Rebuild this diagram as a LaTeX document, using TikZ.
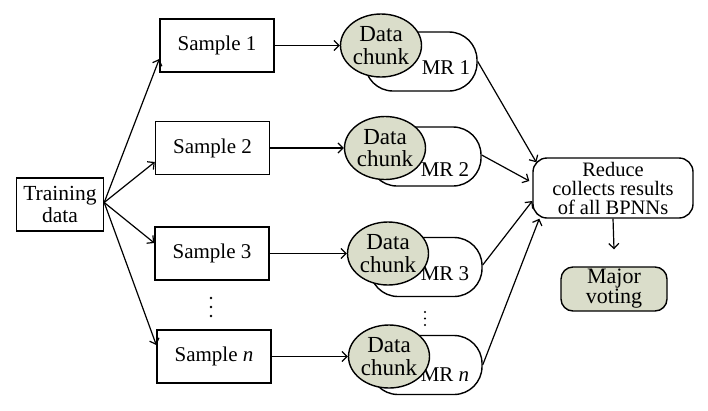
\documentclass[tikz,border=0pt]{standalone}
\usepackage{fontspec}
\setmainfont{Liberation Serif}
\usetikzlibrary{arrows.meta,shapes.geometric}
\definecolor{chunkfill}{RGB}{218,221,202}
\tikzset{
    arr/.style = {-{Straight Barb[length=5pt,width=10pt]}, line width=1.2pt},
    smplbox/.style = {draw, rectangle, line width=1.4pt, minimum width=114pt, minimum height=53pt, inner sep=0pt},
    mrbox/.style = {draw, rectangle, line width=1.4pt, minimum width=112pt, minimum height=59pt, rounded corners=28pt},
    chunk/.style = {draw, ellipse, fill=chunkfill, line width=1.4pt, minimum width=81pt, minimum height=63pt, inner sep=0pt, align=center, font=\fontsize{23}{22.5}\selectfont},
    dot/.style = {circle, fill, inner sep=0pt, minimum size=2.6pt},
}
\begin{document}
\begin{tikzpicture}[x=1pt, y=-1pt, font=\fontsize{21}{22}\selectfont]
    \useasboundingbox (0,0) rectangle (708,410);
    
    % training data and samples
    \node[draw, line width=1.4pt, minimum width=87pt, minimum height=53pt, inner sep=0pt, align=center, font=\fontsize{21.5}{22}\selectfont] (train) at (60,204.5) {Training\\data};
    \node[smplbox] (s1) at (217,45.5) {Sample 1};
    \node[smplbox] (s2) at (212.5,148) {Sample 2};
    \node[smplbox] (s3) at (212,253.5) {Sample 3};
    \node[smplbox] (sn) at (214,356.5) {Sample \textit{n}};
    \foreach \ydot in {298,307,316} {
        \node[dot] at (211,\ydot) {};
    } %end foreach
    
    \draw[arr] ([yshift=2pt]train.east) -- ([yshift=-13.5pt]s1.west);
    \draw[arr] ([yshift=2pt]train.east) -- ([yshift=-14pt]s2.west);
    \draw[arr] ([yshift=2pt]train.east) -- ([yshift=10.5pt]s3.west);
    \draw[arr] ([yshift=2pt]train.east) -- ([yshift=11.5pt]sn.west);
    
    % map-reduce jobs
    \node[mrbox] (mr1) at (421,61.5) {};
    \node[mrbox] (mr2) at (425,156.5) {};
    \node[mrbox] (mr3) at (426,267) {};
    \node[mrbox] (mrn) at (426,365) {};
    \node at ([xshift=25pt,yshift=-6pt]mr1.center) {MR 1};
    \node at ([xshift=20pt,yshift=-13pt]mr2.center) {MR 2};
    \node at ([xshift=19pt,yshift=-7pt]mr3.center) {MR 3};
    \node at ([xshift=19pt,yshift=-10pt]mrn.center) {MR \textit{n}};
    \foreach \ydot in {312,318.5,325} {
        \node[dot, minimum size=2.3pt] at (425,\ydot) {};
    } %end foreach
    
    \node[chunk] (dc1) at (381,45.5) {Data\\chunk};
    \node[chunk] (dc2) at (385,148) {Data\\chunk};
    \node[chunk] (dc3) at (388,253.5) {Data\\chunk};
    \node[chunk] (dcn) at (389,356.5) {Data\\chunk};
    
    \draw[arr] (s1.east) -- (dc1.west);
    \draw[arr] (s2.east) -- (dc2.west);
    \draw[arr] (s3.east) -- (dc3.west);
    \draw[arr] (sn.east) -- (dcn.west);
    
    % reduce and voting
    \node[draw, line width=1.4pt, rounded corners=14pt, minimum width=160pt, minimum height=60pt, inner sep=0pt, align=center, font=\fontsize{20.5}{19}\selectfont] (reduce) at (613,188) {Reduce\\collects results\\of all BPNNs};
    \node[draw, fill=chunkfill, line width=1.4pt, rounded corners=12pt, minimum width=106pt, minimum height=44pt, inner sep=0pt, align=center, font=\fontsize{22}{20}\selectfont] (vote) at (614,289) {Major\\voting};
    
    \draw[arr] (mr1.east) -- ([xshift=4pt,yshift=-5pt]reduce.north west);
    \draw[arr] ([yshift=1.5pt]mr2.east) -- ([xshift=-3pt,yshift=7pt]reduce.west);
    \draw[arr] ([yshift=2pt]mr3.east) -- ([yshift=-13pt]reduce.west);
    \draw[arr] (mrn.east) -- ([xshift=7pt]reduce.south west);
    \draw[arr] (reduce.south) -- ([yshift=17pt]vote.north);
    
\end{tikzpicture}
\end{document}
